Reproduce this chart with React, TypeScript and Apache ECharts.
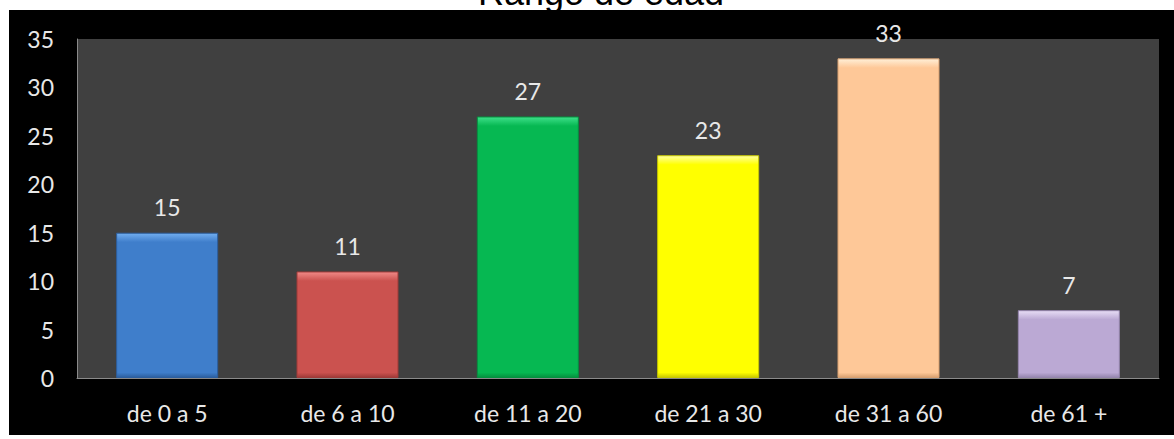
import React, { useEffect, useRef } from "react";
import * as echarts from "echarts";

const categories = ["de 0 a 5", "de 6 a 10", "de 11 a 20", "de 21 a 30", "de 31 a 60", "de 61 +"];
const values = [15, 11, 27, 23, 33, 7];
const baseColors = ["#3f7ecb", "#cb524f", "#06b852", "#ffff00", "#fec898", "#bba9d4"];
const lightColors = ["#72aef0", "#f08a88", "#3ee08a", "#ffffa0", "#fff0d8", "#e8def6"];
const darkColors = ["#2c5e9e", "#9e3a38", "#05903f", "#c8c800", "#d8a070", "#9585ad"];
const yTicks = [0, 5, 10, 15, 20, 25, 30, 35];

export default function App() {
  const ref = useRef<HTMLDivElement>(null);
  useEffect(() => {
    document.body.style.margin = "0";
    const chart = echarts.init(ref.current!, null, { renderer: "svg" });
    const plotH = 339;
    const maxV = yTicks[yTicks.length - 1];
    const data = values.map((v, i) => {
      const h = (v / maxV) * plotH;
      const f = Math.min(0.3, 9 / h);
      const fb = Math.min(0.3, 5 / h);
      return {
        value: v,
        itemStyle: {
          color: {
            type: "linear",
            x: 0, y: 0, x2: 0, y2: 1,
            colorStops: [
              { offset: 0, color: lightColors[i] },
              { offset: f, color: baseColors[i] },
              { offset: 1 - fb, color: baseColors[i] },
              { offset: 1, color: darkColors[i] },
            ],
          },
          borderColor: darkColors[i],
          borderWidth: 1,
        },
      };
    });
    chart.setOption({
      animation: false,
      backgroundColor: "#ffffff",
      title: {
        text: "Rango de edad",
        left: 596,
        textAlign: "center",
        top: -31,
        textStyle: { fontFamily: "Liberation Sans", fontSize: 36, fontWeight: "normal", color: "#000" },
      },
      graphic: [
        {
          type: "rect",
          z: -10,
          silent: true,
          shape: { x: 9, y: 10, width: 1165, height: 425 },
          style: { fill: "#000000" },
        },
      ],
      grid: {
        left: 77,
        right: 15,
        top: 39,
        bottom: 61,
        show: true,
        backgroundColor: "#404040",
        borderWidth: 0,
      },
      xAxis: {
        type: "category",
        data: categories,
        axisLine: { show: true, lineStyle: { color: "#8a8a8a", width: 1 } },
        axisTick: { show: false },
        axisLabel: { color: "#e8e8e8", fontSize: 23, fontFamily: "Lato", margin: 23 },
      },
      yAxis: {
        type: "value",
        min: 0,
        max: 35,
        interval: 5,
        axisLine: { show: true, lineStyle: { color: "#8a8a8a", width: 1 } },
        axisTick: { show: false },
        splitLine: { show: false },
        axisLabel: { color: "#e8e8e8", fontSize: 23, fontFamily: "Lato", margin: 23 },
      },
      series: [
        {
          type: "bar",
          data,
          barWidth: 102,
          label: {
            show: true,
            position: "top",
            distance: 14,
            color: "#e8e8e8",
            fontSize: 23,
            fontFamily: "Lato",
          },
        },
      ],
    });
    return () => chart.dispose();
  }, []);
  return <div ref={ref} style={{ width: 1174, height: 439 }} />;
}
